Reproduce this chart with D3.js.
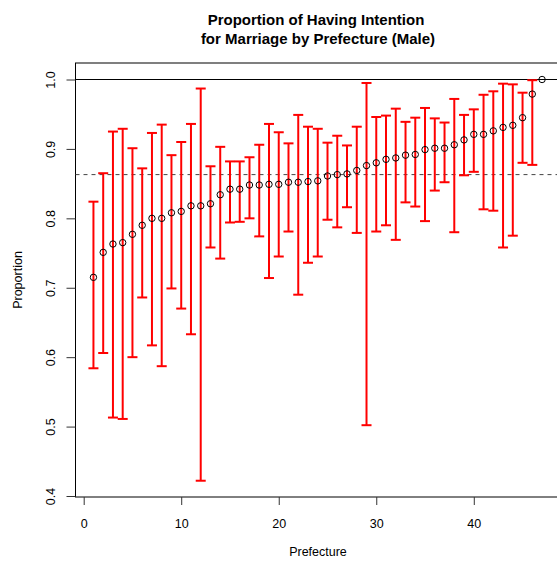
<!DOCTYPE html>
<html>
<head>
<meta charset="utf-8">
<script src="https://cdn.jsdelivr.net/npm/d3@7"></script>
<style>
  body { margin: 0; background: #fff; }
  svg { display: block; font-family: "Liberation Sans", Arial, sans-serif; }
</style>
</head>
<body>
<svg width="557" height="562"></svg>
<script>
// prefectures sorted by proportion (index 1..47)
const prefecture = [1, 2, 3, 4, 5, 6, 7, 8, 9, 10, 11, 12, 13, 14, 15, 16, 17, 18, 19, 20,
  21, 22, 23, 24, 25, 26, 27, 28, 29, 30, 31, 32, 33, 34, 35, 36, 37, 38, 39, 40,
  41, 42, 43, 44, 45, 46, 47];
const proportion = [0.715, 0.751, 0.763, 0.765, 0.777, 0.790, 0.800, 0.800, 0.808, 0.810,
  0.818, 0.818, 0.821, 0.834, 0.842, 0.842, 0.848, 0.848, 0.849, 0.849,
  0.852, 0.852, 0.853, 0.854, 0.861, 0.863, 0.864, 0.869, 0.876, 0.880,
  0.885, 0.887, 0.891, 0.892, 0.899, 0.901, 0.901, 0.906, 0.913, 0.921,
  0.921, 0.926, 0.931, 0.934, 0.945, 0.979, 1.000];
const lower = [0.584, 0.606, 0.513, 0.511, 0.600, 0.686, 0.617, 0.587, 0.699, 0.670,
  0.633, 0.422, 0.758, 0.742, 0.794, 0.795, 0.800, 0.774, 0.714, 0.745,
  0.781, 0.690, 0.736, 0.745, 0.798, 0.787, 0.816, 0.779, 0.502, 0.781,
  0.790, 0.769, 0.823, 0.817, 0.796, 0.840, 0.852, 0.780, 0.862, 0.867,
  0.813, 0.811, 0.758, 0.775, 0.880, 0.877, null];
const upper = [0.824, 0.865, 0.925, 0.929, 0.901, 0.872, 0.923, 0.935, 0.891, 0.910,
  0.936, 0.987, 0.875, 0.903, 0.882, 0.882, 0.888, 0.906, 0.936, 0.924,
  0.908, 0.949, 0.932, 0.929, 0.909, 0.919, 0.905, 0.932, 0.995, 0.946,
  0.948, 0.958, 0.939, 0.945, 0.959, 0.944, 0.938, 0.972, 0.949, 0.957,
  0.978, 0.983, 0.994, 0.993, 0.981, 0.999, null];
const overallMean = 0.863;
const xTicks = [0, 10, 20, 30, 40];
const yTicks = [0.4, 0.5, 0.6, 0.7, 0.8, 0.9, 1.0];

const svg = d3.select('svg');

const box = { left: 75.5, right: 560, top: 63, bottom: 497 };

const x = d3.scaleLinear().domain([-0.84, 48.84]).range([box.left, box.right]);
const y = d3.scaleLinear().domain([0.4, 1.0]).range([496, 79.5]);

const data = prefecture.map((p, i) => ({
  p: p,
  v: proportion[i],
  lo: lower[i],
  hi: upper[i],
}));

// plot box
svg.append('rect')
  .attr('x', box.left)
  .attr('y', box.top)
  .attr('width', box.right - box.left)
  .attr('height', box.bottom - box.top)
  .attr('fill', 'none')
  .attr('stroke', '#000')
  .attr('stroke-width', 1);

// axes
svg.append('g')
  .attr('transform', `translate(0,${box.bottom})`)
  .call(d3.axisBottom(x).tickValues(xTicks).tickSize(8).tickPadding(14))
  .call(g => g.select('.domain').remove())
  .call(g => g.selectAll('line').attr('stroke', '#333'))
  .call(g => g.selectAll('text').attr('font-size', 12.5).attr('fill', '#000'));

const yAxis = svg.append('g')
  .attr('transform', `translate(${box.left},0)`)
  .call(d3.axisLeft(y).tickValues(yTicks).tickSize(9).tickFormat(d3.format('.1f')))
  .call(g => g.select('.domain').remove())
  .call(g => g.selectAll('line').attr('stroke', '#333'));

yAxis.selectAll('text')
  .attr('font-size', 12.5)
  .attr('fill', '#000')
  .attr('x', null)
  .attr('dy', null)
  .attr('text-anchor', 'middle')
  .attr('transform', 'translate(-21,0) rotate(-90)');

// reference lines
svg.append('line')
  .attr('x1', box.left).attr('x2', box.right)
  .attr('y1', y(1.0)).attr('y2', y(1.0))
  .attr('stroke', '#000');

svg.append('line')
  .attr('x1', box.left).attr('x2', box.right)
  .attr('y1', y(overallMean)).attr('y2', y(overallMean))
  .attr('stroke', '#444')
  .attr('stroke-dasharray', '4,4');

// error bars
const bars = svg.append('g')
  .attr('stroke', '#ff0000')
  .attr('stroke-width', 2)
  .selectAll('g')
  .data(data.filter(d => d.lo !== null))
  .join('g');

bars.append('line')
  .attr('x1', d => x(d.p)).attr('x2', d => x(d.p))
  .attr('y1', d => y(d.lo)).attr('y2', d => y(d.hi));

bars.append('line')
  .attr('x1', d => x(d.p) - 5).attr('x2', d => x(d.p) + 5)
  .attr('y1', d => y(d.hi)).attr('y2', d => y(d.hi));

bars.append('line')
  .attr('x1', d => x(d.p) - 5).attr('x2', d => x(d.p) + 5)
  .attr('y1', d => y(d.lo)).attr('y2', d => y(d.lo));

// points
svg.append('g')
  .selectAll('circle')
  .data(data)
  .join('circle')
  .attr('cx', d => x(d.p))
  .attr('cy', d => y(d.v))
  .attr('r', 3.2)
  .attr('fill', 'none')
  .attr('stroke', '#000')
  .attr('stroke-width', 1);

// titles
const title = svg.append('text')
  .attr('text-anchor', 'middle')
  .attr('font-size', 15)
  .attr('font-weight', 'bold')
  .attr('fill', '#000');
title.append('tspan').attr('x', 316).attr('y', 25).text('Proportion of Having Intention');
title.append('tspan').attr('x', 318).attr('y', 44).text('for Marriage by Prefecture (Male)');

svg.append('text')
  .attr('x', 318)
  .attr('y', 556)
  .attr('text-anchor', 'middle')
  .attr('font-size', 12.5)
  .text('Prefecture');

svg.append('text')
  .attr('transform', `translate(22,${(box.top + box.bottom) / 2}) rotate(-90)`)
  .attr('text-anchor', 'middle')
  .attr('font-size', 12.5)
  .text('Proportion');
</script>
</body>
</html>
